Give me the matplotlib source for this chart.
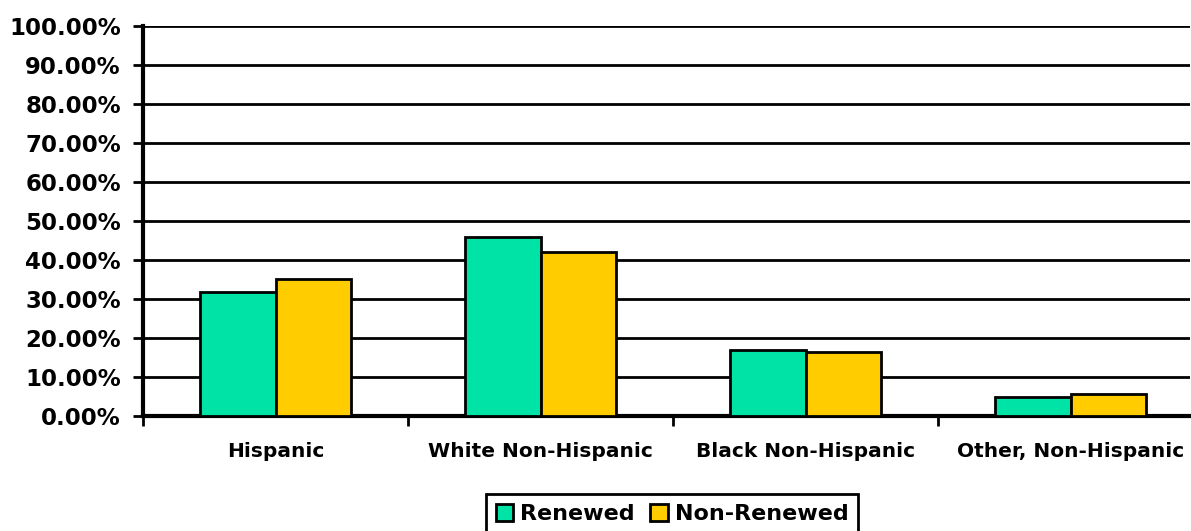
import numpy as np
import matplotlib.pyplot as plt
from matplotlib.ticker import FuncFormatter, FixedLocator

groups = ["Hispanic", "White Non-Hispanic", "Black Non-Hispanic", "Other, Non-Hispanic"]
renewed = [31.8, 45.8, 16.9, 4.9]
non_renewed = [35.2, 42.1, 16.5, 5.6]
series_names = ["Renewed", "Non-Renewed"]
colors = ["#00E3A6", "#FFCC00"]

plt.rcParams["font.family"] = "DejaVu Sans"
plt.rcParams["font.weight"] = "bold"


def main():
    fig = plt.figure(figsize=(11.91, 5.31), dpi=100)
    ax = fig.add_axes([143 / 1191, 115 / 531, 1047 / 1191, 390 / 531])

    x = np.arange(len(groups))
    w = 1 / 3.5  # gap width 150%
    ax.bar(x - w / 2, renewed, w, color=colors[0], edgecolor="black",
           linewidth=2, label=series_names[0], zorder=3)
    ax.bar(x + w / 2, non_renewed, w, color=colors[1], edgecolor="black",
           linewidth=2, label=series_names[1], zorder=3)

    ax.set_ylim(0, 100)
    ax.set_xlim(-0.5, 3.45)
    ax.set_yticks(np.arange(0, 101, 10))
    ax.yaxis.set_major_formatter(FuncFormatter(lambda v, p: f"{v:.2f}%"))
    ax.yaxis.grid(True, color="black", linewidth=2)
    ax.set_axisbelow(True)

    # group boundaries as major ticks, names on minor ticks
    ax.xaxis.set_major_locator(FixedLocator(x - 0.5))
    ax.xaxis.set_major_formatter(FuncFormatter(lambda v, p: ""))
    ax.set_xticks(x, minor=True)
    ax.set_xticklabels(groups, minor=True, fontsize=14.5, fontweight="bold")
    ax.tick_params(axis="x", which="major", length=7, width=2, direction="out")
    ax.tick_params(axis="x", which="minor", length=0, pad=19)
    ax.tick_params(axis="y", length=7, width=2, pad=9, labelsize=16.5)

    for side in ["top", "right"]:
        ax.spines[side].set_visible(False)
    for side in ["left", "bottom"]:
        ax.spines[side].set_linewidth(3)

    leg = fig.legend(loc="center", bbox_to_anchor=(672 / 1191, 17 / 531),
                     ncol=2, fontsize=16, frameon=True, fancybox=False,
                     framealpha=1, handlelength=0.8, handleheight=0.8,
                     handletextpad=0.3, columnspacing=0.7, borderpad=0.45,
                     borderaxespad=0)
    leg.get_frame().set_edgecolor("black")
    leg.get_frame().set_linewidth(2)
    for t in leg.get_texts():
        t.set_fontweight("bold")

    fig.savefig("out.png", dpi=100)


if __name__ == "__main__":
    main()
